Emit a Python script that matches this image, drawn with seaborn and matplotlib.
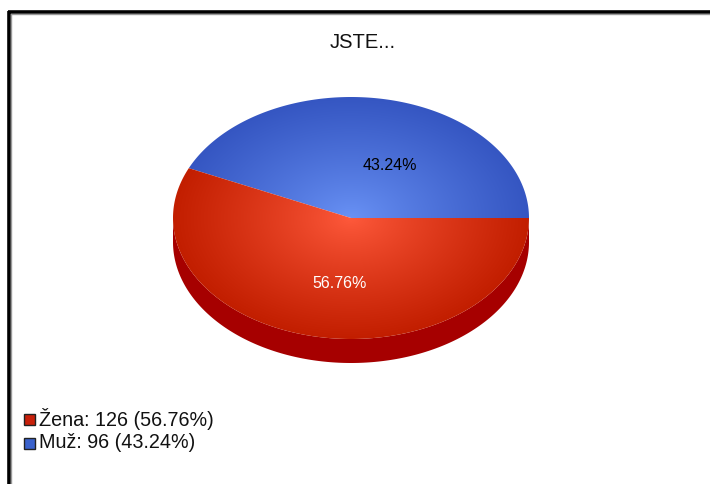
import numpy as np
import matplotlib
matplotlib.use("Agg")
import matplotlib.pyplot as plt
from matplotlib.patches import Polygon, Rectangle
import seaborn as sns

# ---- data ----
title = "JSTE..."
categories = ["Žena", "Muž"]
counts = [126, 96]

sns.set_theme(style="white")
plt.rcParams['font.family'] = ['Liberation Sans', 'DejaVu Sans']

# colours (edge, centre) per slice
top_edge = ["#c21e00", "#3556c2"]
top_centre = ["#ff5a3c", "#6a93f6"]
side_colour = "#a60000"
legend_cols = ["#c8200a", "#3a62cc"]
label_cols = ["white", "black"]

W, H = 710, 484
fig = plt.figure(figsize=(W / 100, H / 100), dpi=100)
ax = fig.add_axes([0, 0, 1, 1])
ax.set_xlim(0, W)
ax.set_ylim(H, 0)
ax.axis("off")

# pie geometry (pixels)
cx, cy, rx, ry, depth = 351, 218, 178, 121, 24

total = sum(counts)
fracs = [c / total for c in counts]
# blue (Muž) from 0 deg counter-clockwise, red (Žena) the rest
starts = {1: 0.0, 0: fracs[1] * 360}
ends = {1: fracs[1] * 360, 0: 360.0}

def ell(theta_deg, dy=0.0):
    t = np.radians(theta_deg)
    return cx + rx * np.cos(t), cy - ry * np.sin(t) + dy

# side (front half, 180..360)
th = np.linspace(180, 360, 200)
xt, yt = ell(th)
xb, yb = ell(th[::-1], depth)
side = Polygon(np.column_stack([np.r_[xt, xb], np.r_[yt, yb]]),
               closed=True, fc=side_colour, ec="none", zorder=1)
ax.add_patch(side)

# radial gradient image
gx = np.linspace(cx - rx, cx + rx, 500)
gy = np.linspace(cy - ry, cy + ry, 400)
GX, GY = np.meshgrid(gx, gy)
R = np.clip(np.sqrt(((GX - cx) / rx) ** 2 + ((GY - cy) / ry) ** 2), 0, 1)
R = R ** 0.85

for i in [1, 0]:
    a0, a1 = starts[i], ends[i]
    th = np.linspace(a0, a1, 300)
    xs, ys = ell(th)
    poly = Polygon(np.column_stack([np.r_[cx, xs], np.r_[cy, ys]]),
                   closed=True, fc="none", ec="none", transform=ax.transData)
    ax.add_patch(poly)
    c0 = np.array(matplotlib.colors.to_rgb(top_centre[i]))
    c1 = np.array(matplotlib.colors.to_rgb(top_edge[i]))
    img = c0[None, None, :] * (1 - R[..., None]) + c1[None, None, :] * R[..., None]
    im = ax.imshow(img, extent=[cx - rx, cx + rx, cy + ry, cy - ry],
                   origin="upper", zorder=2, interpolation="bilinear", aspect="auto")
    im.set_clip_path(poly)

# percent labels
for i, (lx, ly) in zip([0, 1], [(340, 283), (390, 166)]):
    ax.text(lx, ly, f"{fracs[i]*100:.2f}%", ha="center", va="center",
            fontsize=11.5, color=label_cols[i], zorder=5)

# restore limits (imshow may change them)
ax.set_xlim(0, W)
ax.set_ylim(H, 0)

# title
ax.text(363, 42, title, ha="center", va="center", fontsize=14.5, color="#111111")

# legend
for i, (cat, c) in enumerate(zip(categories, counts)):
    y = 419 + i * 24
    ax.add_patch(Rectangle((23.5, y - 5.5), 11, 11, fc=legend_cols[i],
                           ec="#222222", lw=1, zorder=5))
    ax.text(39, y, f"{cat}: {c} ({fracs[i]*100:.2f}%)", ha="left", va="center",
            fontsize=14.2, color="#111111")

# frame (top and left border)
ax.plot([8, W], [12, 12], color="black", lw=2.6, solid_capstyle="butt", zorder=6)
ax.plot([9.2, 9.2], [11, H], color="black", lw=2.6, solid_capstyle="butt", zorder=6)
ax.plot([10.5, W], [13.8, 13.8], color="#999999", lw=1, zorder=6)
ax.plot([11, 11], [13.8, H], color="#999999", lw=1, zorder=6)

fig.savefig("out.png", dpi=100)
